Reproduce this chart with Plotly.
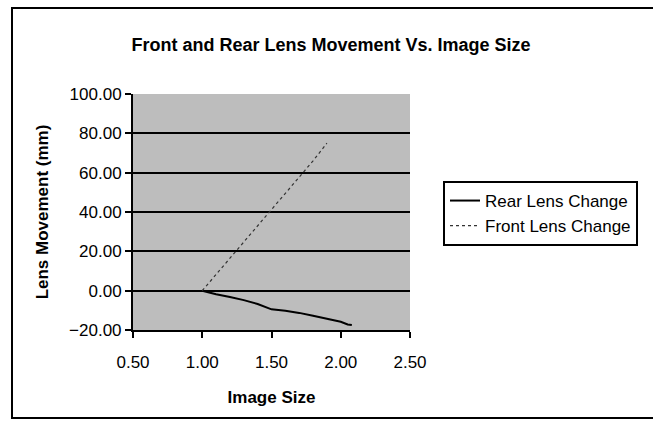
import plotly.graph_objects as go

rear_x = [1.00, 1.05, 1.10, 1.20, 1.30, 1.40, 1.50, 1.60, 1.70, 1.80, 1.90, 2.00, 2.05, 2.08]
rear_y = [0.0, -1.0, -1.8, -3.2, -4.8, -6.8, -9.5, -10.2, -11.3, -12.8, -14.3, -15.8, -17.2, -17.5]

front_x = [1.00, 1.20, 1.40, 1.60, 1.80, 1.90]
front_y = [0.0, 16.5, 33.0, 49.5, 66.0, 75.0]

x_ticks = [0.5, 1.0, 1.5, 2.0, 2.5]
y_ticks = [-20, 0, 20, 40, 60, 80, 100]

FONT = "Liberation Sans, Arial, sans-serif"

fig = go.Figure()
fig.add_trace(go.Scatter(x=rear_x, y=rear_y, mode="lines", name="Rear Lens Change",
                         line=dict(color="black", width=2)))
fig.add_trace(go.Scatter(x=front_x, y=front_y, mode="lines", name="Front Lens Change",
                         line=dict(color="#333333", width=1.2, dash="dot")))

fig.update_layout(
    width=653, height=422,
    margin=dict(l=133, r=243, t=94, b=92),
    paper_bgcolor="white",
    plot_bgcolor="#bdbdbd",
    font=dict(family=FONT, size=17, color="black"),
    title=dict(text="<b>Front and Rear Lens Movement Vs. Image Size</b>",
               x=331 / 653, xanchor="center", y=1 - 45 / 422, yanchor="middle",
               font=dict(size=18)),
    xaxis=dict(range=[0.5, 2.5], tickvals=x_ticks, tickformat=".2f",
               showgrid=False, zeroline=False, showline=True, linecolor="black", linewidth=2,
               ticks="outside", ticklen=6, tickwidth=2, tickcolor="black",
               ticklabelstandoff=10,
               title=dict(text="<b>Image Size</b>", standoff=20, font=dict(size=17))),
    yaxis=dict(range=[-20, 100], tickvals=y_ticks, tickformat=".2f",
               showgrid=True, gridcolor="black", gridwidth=1.5, zeroline=False,
               showline=True, linecolor="black", linewidth=2,
               ticks="outside", ticklen=6, tickwidth=2, tickcolor="black",
               title=dict(text="<b>Lens Movement (mm)</b>", standoff=16, font=dict(size=17))),
    legend=dict(x=(443 - 133) / 277, y=(330 - 181) / 236, xanchor="left", yanchor="top",
                bordercolor="black", borderwidth=2, bgcolor="white",
                font=dict(size=17), tracegroupgap=0),
    showlegend=True,
)

fig.add_shape(type="rect", xref="paper", yref="paper",
              x0=(12 - 133) / 277, x1=(720 - 133) / 277,
              y0=(330 - 418) / 236, y1=(330 - 8) / 236,
              line=dict(color="black", width=2), fillcolor="rgba(0,0,0,0)", layer="below")

fig.write_html("out.html")
